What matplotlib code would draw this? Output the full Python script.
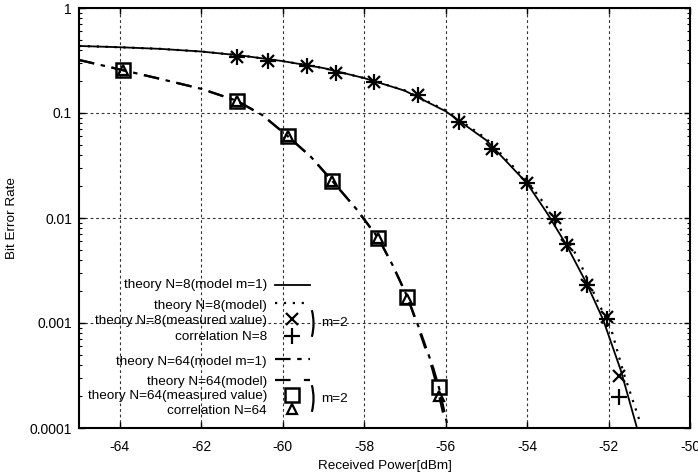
import numpy as np
import matplotlib
matplotlib.use("Agg")
from matplotlib import pyplot as plt
from matplotlib.patches import Arc

plt.rcParams['font.family'] = ['Liberation Sans', 'DejaVu Sans']

# theory curves, N=8
n8_m1_x = [-65, -64, -63, -62, -61, -60, -59, -58, -57, -56, -55, -54, -53.5, -53.03, -52.54, -52.13, -51.70, -51.31]
n8_m1_y = [0.435, 0.423, 0.408, 0.385, 0.352, 0.312, 0.268, 0.215, 0.163, 0.104, 0.055, 0.0214, 0.011, 0.0055, 0.00239, 0.00107, 0.000355, 0.000103]
n8_m2_x = [-65, -64, -63, -62, -61, -60, -59, -58, -57, -56, -55, -54, -53.5, -52.79, -52.30, -51.93, -51.64, -51.23]
n8_m2_y = [0.435, 0.423, 0.408, 0.385, 0.352, 0.312, 0.268, 0.215, 0.164, 0.106, 0.057, 0.0225, 0.0125, 0.00444, 0.00172, 0.000858, 0.000344, 0.000115]

# theory curves, N=64
n64_m1_x = [-65, -64, -63, -62, -61.13, -60.5, -59.88, -59.3, -58.78, -58.2, -57.65, -57.3, -56.94, -56.6, -56.3, -56.16, -55.94]
n64_m1_y = [0.32, 0.26, 0.211, 0.17, 0.131, 0.0955, 0.0604, 0.038, 0.0225, 0.0123, 0.00641, 0.00355, 0.00178, 0.00079, 0.00037, 0.00024, 0.0001]
n64_m2_x = [-65, -64, -63, -62, -61.13, -60.5, -59.88, -59.3, -58.78, -58.2, -57.65, -57.3, -56.94, -56.62, -56.33, -56.2, -55.98]
n64_m2_y = [0.32, 0.26, 0.211, 0.17, 0.131, 0.0955, 0.0604, 0.038, 0.0225, 0.0123, 0.00641, 0.00355, 0.00178, 0.00079, 0.00037, 0.00024, 0.0001]

# measurements
n8_meas_x = [-61.13, -60.36, -59.41, -58.68, -57.75, -56.67, -55.67, -54.86, -54.0, -53.32, -53.01, -52.54, -52.03, -51.74]
n8_meas_y = [0.344, 0.313, 0.280, 0.242, 0.196, 0.148, 0.0826, 0.0451, 0.0214, 0.00993, 0.00553, 0.0023, 0.00115, 0.000313]
n8_corr_x = [-61.13, -60.36, -59.41, -58.68, -57.75, -56.67, -55.67, -54.86, -54.0, -53.32, -53.01, -52.54, -52.03, -51.74]
n8_corr_y = [0.344, 0.313, 0.280, 0.242, 0.196, 0.148, 0.0826, 0.0451, 0.0214, 0.0098, 0.0056, 0.0023, 0.0011, 0.000199]
n64_meas_x = [-63.93, -61.13, -59.88, -58.78, -57.65, -56.94, -56.16]
n64_meas_y = [0.257, 0.131, 0.0604, 0.0225, 0.00641, 0.00178, 0.000247]
n64_corr_x = [-63.93, -61.13, -59.88, -58.78, -57.65, -56.94, -56.16, -55.96]
n64_corr_y = [0.257, 0.131, 0.0604, 0.0225, 0.00641, 0.0017, 0.000202, 0.000085]

x_ticks = [-64, -62, -60, -58, -56, -54, -52, -50]
y_ticks = [0.0001, 0.001, 0.01, 0.1, 1]
y_labels = ['0.0001', '0.001', '0.01', '0.1', '1']

dashdot = (0, (7, 3, 2, 3))
dashed = (0, (7, 8))   # same period as the dash-dot so the dashes sit on top of each other
dotted = (0, (1, 3))

fig = plt.figure(figsize=(6.98, 4.74), dpi=100)
ax = fig.add_axes([79 / 698, 1 - 428 / 474, 611 / 698, 420 / 474])

ax.plot(n8_m1_x, n8_m1_y, color='black', lw=1.3, ls='-')
ax.plot(n8_m2_x, n8_m2_y, color='black', lw=1.6, ls=dotted)
ax.plot(n64_m1_x, n64_m1_y, color='black', lw=1.6, ls=dashdot)
ax.plot(n64_m2_x, n64_m2_y, color='black', lw=1.6, ls=dashed)

ax.plot(n8_meas_x, n8_meas_y, ls='none', marker='x', ms=9, mew=1.6, color='black')
ax.plot(n8_corr_x, n8_corr_y, ls='none', marker='+', ms=11, mew=1.6, color='black')
ax.plot(n64_meas_x, n64_meas_y, ls='none', marker='s', ms=10, mew=1.8, mfc='none', mec='black')
ax.plot(n64_corr_x, n64_corr_y, ls='none', marker='^', ms=7.5, mew=1.6, mfc='none', mec='black')

ax.set_yscale('log')
ax.set_xlim(-65, -50)
ax.set_ylim(0.0001, 1)
ax.set_xticks(x_ticks)
ax.set_xticklabels([str(v) for v in x_ticks])
ax.set_yticks(y_ticks)
ax.set_yticklabels(y_labels)
ax.yaxis.set_minor_locator(matplotlib.ticker.LogLocator(base=10, subs=np.arange(2, 10)))
ax.yaxis.set_minor_formatter(matplotlib.ticker.NullFormatter())
ax.tick_params(which='both', direction='in', top=True, right=True, labelsize=10)
ax.tick_params(which='major', length=4, width=1)
ax.tick_params(which='minor', length=2.5, width=0.8)
ax.tick_params(axis='x', which='major', pad=8.5)
ax.tick_params(axis='y', which='major', pad=5)
ax.grid(True, which='major', color='#333333', ls=(0, (2.5, 2.5)), lw=0.8)
for sp in ax.spines.values():
    sp.set_linewidth(1.5)

ax.set_xlabel('Received Power[dBm]', fontsize=9.7, labelpad=4.5)
ax.set_ylabel('Bit Error Rate', fontsize=9.7, labelpad=8.5)

# hand-made legend, laid out in pixels of the axes box
def px(xp, yp):
    return (xp - 79) / 611, (428 - yp) / 420

rows = [
    ('theory N=8(model m=1)', 285),
    ('theory N=8(model)', 306.5),
    ('theory N=8(measured value)', 321),
    ('correlation N=8', 336.5),
    ('theory N=64(model m=1)', 362.5),
    ('theory N=64(model)', 382.5),
    ('theory N=64(measured value)', 396.5),
    ('correlation N=64', 411.5),
]
for label, yp in rows:
    tx, ty = px(267, yp)
    ax.text(tx, ty, label, transform=ax.transAxes, ha='right', va='center', fontsize=9.7)

x0, _ = px(275, 0)
x1, _ = px(310, 0)
xm, _ = px(291.5, 0)
kw = dict(transform=ax.transAxes, clip_on=False, color='black')
_, y = px(0, 285)
ax.plot([x0, x1], [y, y], lw=1.3, ls='-', **kw)
_, y = px(0, 302.5)
ax.plot([x0, x1], [y, y], lw=1.6, ls=dotted, **kw)
_, y = px(0, 318.5)
ax.plot([xm], [y], ls='none', marker='x', ms=9, mew=1.6, **kw)
_, y = px(0, 336)
ax.plot([xm], [y], ls='none', marker='+', ms=11, mew=1.6, **kw)
_, y = px(0, 359)
ax.plot([x0, x1], [y, y], lw=1.6, ls=dashdot, **kw)
_, y = px(0, 380)
ax.plot([x0, x1], [y, y], lw=1.6, ls=(0, (7, 6)), **kw)
_, y = px(0, 394.5)
ax.plot([xm], [y], ls='none', marker='s', ms=10, mew=1.8, mfc='none', **kw)
_, y = px(0, 408.5)
ax.plot([xm], [y], ls='none', marker='^', ms=7.5, mew=1.6, mfc='none', **kw)

# brackets grouping the m=2 entries
for yc in (323.5, 398.5):
    cx, cy = px(304, yc)
    ax.add_patch(Arc((cx, cy), 2 * 9.5 / 611, 2 * 23.5 / 420, theta1=-68, theta2=68,
                     transform=ax.transAxes, lw=1.6, color='black', clip_on=False))
    tx, ty = px(321, yc)
    ax.text(tx, ty, 'm=2', transform=ax.transAxes, ha='left', va='center', fontsize=9.7)

fig.savefig('out.png', dpi=100)
